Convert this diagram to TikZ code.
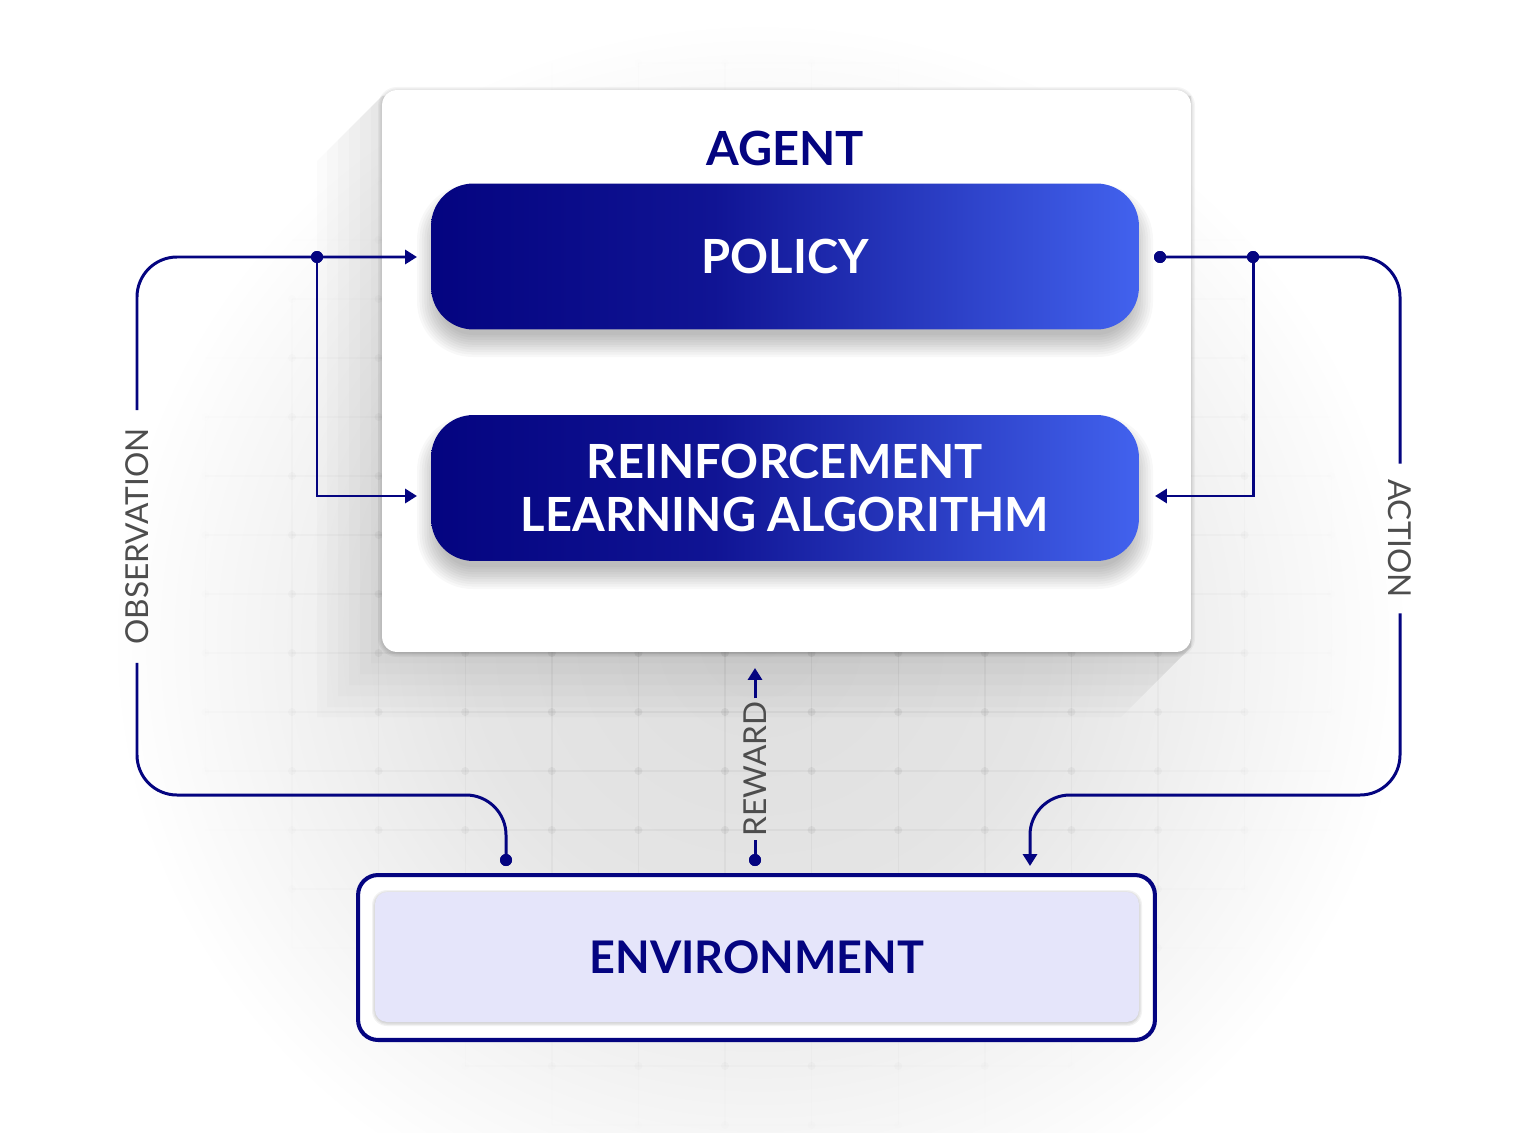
\documentclass[tikz,border=0pt]{standalone}
\usepackage{fontspec}
\setmainfont{Lato}
\usetikzlibrary{arrows.meta}
\definecolor{navy}{RGB}{4,4,128}
\definecolor{navymid}{RGB}{16,20,148}
\definecolor{royal}{RGB}{66,98,238}
\definecolor{lav}{RGB}{229,229,250}
\definecolor{lblgray}{RGB}{77,77,77}
\definecolor{glowA}{RGB}{222,222,222}
\definecolor{glowB}{RGB}{229,229,229}
\definecolor{glowC}{RGB}{244,244,244}
\pgfdeclarehorizontalshading{bluegrad}{100bp}{color(0bp)=(navy); color(25bp)=(navy); color(45bp)=(navymid); color(75bp)=(royal); color(100bp)=(royal)}
\pgfdeclareradialshading{glow}{\pgfpoint{0bp}{0bp}}{color(0bp)=(glowA); color(11bp)=(glowB); color(19bp)=(glowC); color(25bp)=(white); color(50bp)=(white)}
\newcommand{\softshadow}[8]{%
  \foreach \k in {0,...,9}{%
    \pgfmathsetmacro{\sinf}{#7-\k*(#7+8)/9}%
    \pgfmathsetmacro{\rcv}{max(1,#5+(\sinf))*0.5669}%
    \pgfmathsetmacro{\xa}{#1-#3/2-(\sinf)}%
    \pgfmathsetmacro{\xb}{#1+#3/2+(\sinf)}%
    \pgfmathsetmacro{\ya}{#2-#4/2-(\sinf)+#6}%
    \pgfmathsetmacro{\yb}{#2+#4/2+(\sinf)+#6}%
    \fill[black, opacity=#8, rounded corners=\rcv pt] (\xa,\ya) rectangle (\xb,\yb);
  }}
\tikzset{
  conn/.style={draw=navy, line width=1.7pt},
  tip/.style={-{Triangle[length=6.8pt,width=8pt]}},
  dotnode/.style={circle, fill=navy, inner sep=0pt, minimum size=0.24cm},
  bluebox/.style={rectangle, rounded corners=0.85cm, shade, shading=bluegrad,
    minimum width=14.16cm, minimum height=2.92cm, text=white,
    font=\bfseries\fontsize{26.8}{30.6}\selectfont, align=center},
  lbl/.style={text=lblgray, font=\fontsize{18}{20}\selectfont, inner ysep=0pt},
  titletxt/.style={text=navy, font=\bfseries\fontsize{26.8}{30.6}\selectfont},
}
\begin{document}
\begin{tikzpicture}[x=0.02cm,y=-0.02cm]
\useasboundingbox (0,0) rectangle (1537,1132);
\fill[white] (0,0) rectangle (1537,1132);
% background glow
\shade[shading=glow] (760,640) ellipse [x radius=13cm, y radius=12.4cm];
% grid
\foreach \i in {-3,...,14}{
  \foreach \j in {-1,...,18}{
    \pgfmathsetmacro{\gx}{292+86.6*\i}
    \pgfmathsetmacro{\gy}{63+59*\j}
    \pgfmathsetmacro{\ov}{0.045*max(0,1-((\gx-760)/600)^2-((\gy+29.5-600)/560)^2)}
    \pgfmathsetmacro{\oh}{0.045*max(0,1-((\gx+43.3-760)/600)^2-((\gy-600)/560)^2)}
    \pgfmathsetmacro{\od}{0.06*max(0,1-((\gx-760)/600)^2-((\gy-600)/560)^2)}
    \draw[black, opacity=\ov, line width=0.8pt] (\gx,\gy) -- (\gx,\gy+59);
    \draw[black, opacity=\oh, line width=0.8pt] (\gx,\gy) -- (\gx+86.6,\gy);
    \fill[black, opacity=\od] (\gx,\gy) circle (0.08cm);
  }
}
% long shadow of the agent box
\foreach \s in {11,22,33,44,55,65}{
  \fill[black, opacity=0.016] (382,96) -- (382-\s,96+\s) -- (382-\s,652+\s) -- (1186-\s,652+\s) -- (1191,647) -- (1191,96) -- cycle;
}
% agent box
\softshadow{786.5}{371}{809}{562}{15}{1}{4}{0.04}
\node[rectangle, fill=white, rounded corners=0.3cm, minimum width=16.18cm, minimum height=11.24cm] (agent) at (786.5,371) {};
\node[titletxt] (agentT) at (785,148) {AGENT};
\softshadow{785}{256.5}{708}{145}{42}{14}{14}{0.027}
\softshadow{785}{488}{708}{146}{42}{14}{14}{0.027}
\node[bluebox] (policy) at (785,256.5) {POLICY};
\node[bluebox] (rl) at (785,488) {REINFORCEMENT\\LEARNING ALGORITHM};
% environment
\node[rectangle, draw=navy, line width=2.3pt, fill=white, rounded corners=0.4cm, minimum width=15.94cm, minimum height=3.3cm] (envO) at (756.5,957.5) {};
\softshadow{757}{957}{764}{130}{12}{1}{3}{0.05}
\node[rectangle, fill=lav, rounded corners=0.24cm, minimum width=15.28cm, minimum height=2.6cm,
  text=navy, font=\bfseries\fontsize{25.6}{30}\selectfont] (env) at (757,957) {ENVIRONMENT};
% labels
\node[lbl, rotate=90, inner xsep=0.36cm] (obsL) at (137,536.5) {OBSERVATION};
\node[lbl, rotate=-90, inner xsep=0.3cm] (actL) at (1400,538.5) {ACTION};
\node[lbl, rotate=90, inner xsep=0.06cm] (rewL) at (755,769) {REWARD};
% connector points
\coordinate (polIn) at (417,257);
\coordinate (rlInL) at (417,496);
\coordinate (rlInR) at (1155,496);
\coordinate (actE) at (1030,866);
\coordinate (rewE) at (755,668);
\node[dotnode] (obsJ) at (317,257) {};
\node[dotnode] (polOut) at (1160,257) {};
\node[dotnode] (actJ) at (1253,257) {};
\node[dotnode] (obsS) at (506,860) {};
\node[dotnode] (rewS) at (755,860) {};
% connectors
\draw[conn, rounded corners=0.8cm] (obsS.center) -- (506,795) -- (137,795) -- (obsL.west);
\draw[conn, tip, rounded corners=0.8cm] (obsL.east) -- (137,257) -- (polIn);
\draw[conn, tip] (obsJ.center) -- (317,496) -- (rlInL);
\draw[conn, rounded corners=0.8cm] (polOut.center) -- (1400,257) -- (actL.west);
\draw[conn, tip, rounded corners=0.8cm] (actL.east) -- (1400,795) -- (1030,795) -- (actE);
\draw[conn, tip] (actJ.center) -- (1253,496) -- (rlInR);
\draw[conn] (rewS.center) -- (rewL.west);
\draw[conn, tip] (rewL.east) -- (rewE);
% dots on top
\foreach \d in {obsJ,polOut,actJ,obsS,rewS}{\fill[navy] (\d.center) circle (0.12cm);}
\end{tikzpicture}
\end{document}
